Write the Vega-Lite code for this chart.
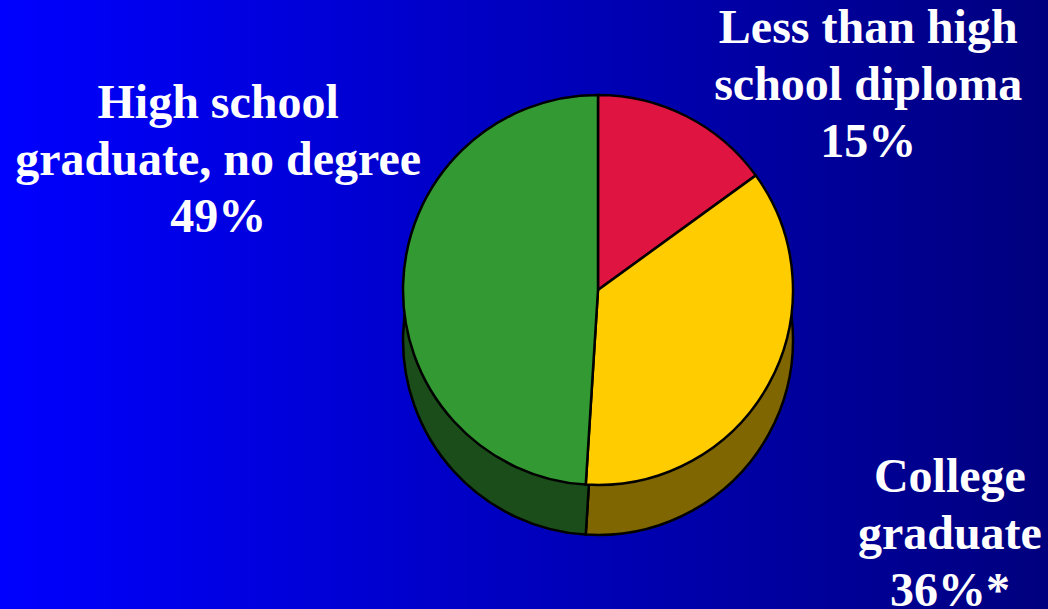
{
  "$schema": "https://vega.github.io/schema/vega-lite/v6.json",
  "width": 1048,
  "height": 609,
  "padding": 0,
  "autosize": {"type": "none"},
  "background": "#000080",
  "view": {
    "stroke": null,
    "fill": {
      "gradient": "linear",
      "x1": 0, "y1": 0, "x2": 1, "y2": 0,
      "stops": [
        {"offset": 0, "color": "#0000FF"},
        {"offset": 1, "color": "#00007E"}
      ]
    }
  },
  "data": {
    "values": [
      {"cat": "Less than high school diploma", "value": 15, "k": 1, "label": "Less than high\nschool diploma\n15%"},
      {"cat": "College graduate", "value": 36, "k": 2, "label": "College\ngraduate\n36%*"},
      {"cat": "High school graduate, no degree", "value": 49, "k": 3, "label": "High school\ngraduate, no degree\n49%"}
    ]
  },
  "layer": [
    {
      "mark": {"type": "arc", "radius": 195, "stroke": "black", "strokeWidth": 2.5},
      "encoding": {
        "theta": {"field": "value", "type": "quantitative", "stack": true},
        "order": {"field": "k", "type": "quantitative"},
        "x": {"value": 598},
        "y": {"value": 340},
        "color": {
          "field": "cat", "type": "nominal", "legend": null,
          "scale": {
            "domain": ["Less than high school diploma", "College graduate", "High school graduate, no degree"],
            "range": ["#700A1E", "#806600", "#1A4D1A"]
          }
        }
      }
    },
    {
      "mark": {"type": "arc", "radius": 195, "stroke": "black", "strokeWidth": 2.5},
      "encoding": {
        "theta": {"field": "value", "type": "quantitative", "stack": true},
        "order": {"field": "k", "type": "quantitative"},
        "x": {"value": 598},
        "y": {"value": 290},
        "color": {
          "field": "cat", "type": "nominal", "legend": null,
          "scale": {
            "domain": ["Less than high school diploma", "College graduate", "High school graduate, no degree"],
            "range": ["#E01440", "#FFCC00", "#339933"]
          }
        }
      }
    },
    {
      "mark": {"type": "text", "radius": 300, "dx": 134, "dy": 6, "font": "Liberation Serif", "fontWeight": "bold", "fontSize": 48, "lineHeight": 57, "lineBreak": "\n", "color": "white", "align": "center", "baseline": "middle"},
      "encoding": {
        "theta": {"field": "value", "type": "quantitative", "stack": true},
        "order": {"field": "k", "type": "quantitative"},
        "x": {"value": 598},
        "y": {"value": 290},
        "text": {"condition": {"test": "datum.k == 1", "field": "label"}, "value": ""}
      }
    },
    {
      "mark": {"type": "text", "radius": 300, "dx": 89, "dy": 43, "font": "Liberation Serif", "fontWeight": "bold", "fontSize": 48, "lineHeight": 57, "lineBreak": "\n", "color": "white", "align": "center", "baseline": "middle"},
      "encoding": {
        "theta": {"field": "value", "type": "quantitative", "stack": true},
        "order": {"field": "k", "type": "quantitative"},
        "x": {"value": 598},
        "y": {"value": 290},
        "text": {"condition": {"test": "datum.k == 2", "field": "label"}, "value": ""}
      }
    },
    {
      "mark": {"type": "text", "radius": 300, "dx": -80, "dy": -177, "font": "Liberation Serif", "fontWeight": "bold", "fontSize": 48, "lineHeight": 57, "lineBreak": "\n", "color": "white", "align": "center", "baseline": "middle"},
      "encoding": {
        "theta": {"field": "value", "type": "quantitative", "stack": true},
        "order": {"field": "k", "type": "quantitative"},
        "x": {"value": 598},
        "y": {"value": 290},
        "text": {"condition": {"test": "datum.k == 3", "field": "label"}, "value": ""}
      }
    }
  ],
  "resolve": {"scale": {"color": "independent"}}
}
